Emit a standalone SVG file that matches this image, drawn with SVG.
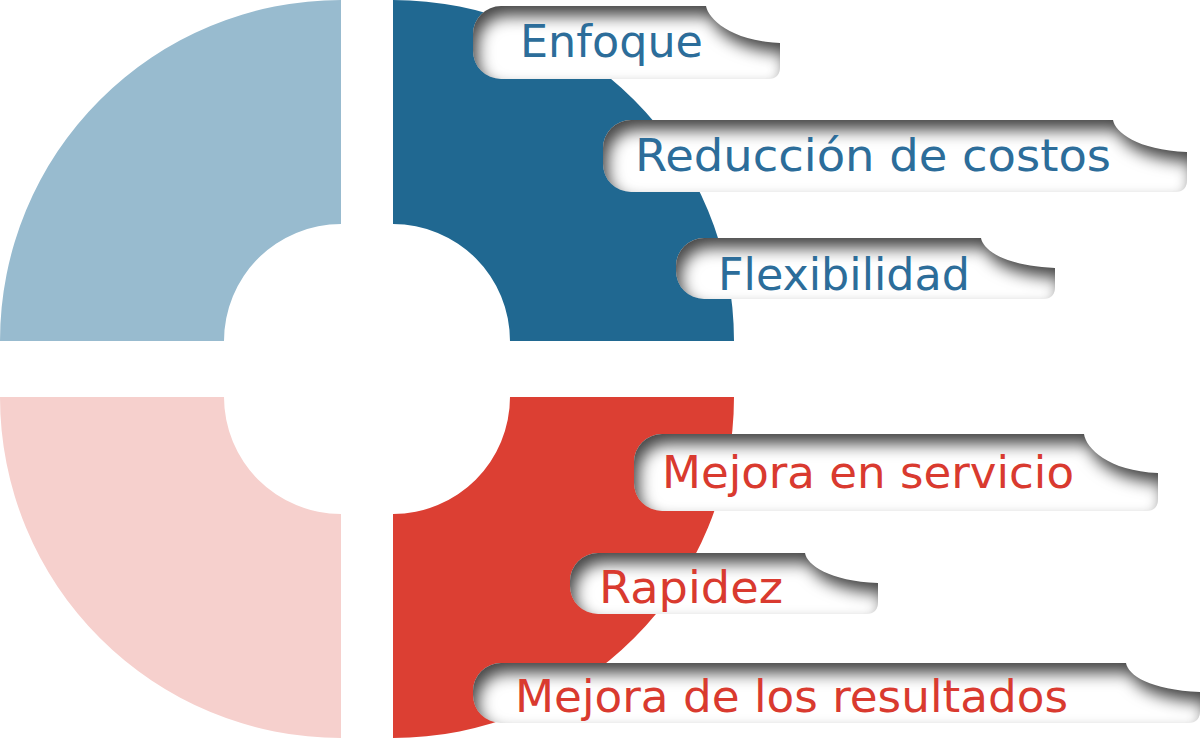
<svg xmlns="http://www.w3.org/2000/svg" width="1200" height="738" viewBox="0 0 1200 738">
  <style>
    .lbl { font-family: "DejaVu Sans", "Liberation Sans", sans-serif; font-size: 45px; }
    .blue { fill: #2c6d9a; }
    .red { fill: #d93a2f; }
    .tab { fill: #ffffff; filter: url(#inset); }
  </style>
  <defs>
    <filter id="inset" x="-15%" y="-80%" width="130%" height="260%" color-interpolation-filters="sRGB">
      <feComponentTransfer in="SourceAlpha" result="inv">
        <feFuncA type="table" tableValues="1 0"/>
      </feComponentTransfer>
      <feOffset in="inv" dx="5" dy="10" result="off"/>
      <feGaussianBlur in="off" stdDeviation="8" result="blur"/>
      <feFlood flood-color="#444444" result="col"/>
      <feComposite in="col" in2="blur" operator="in" result="sh"/>
      <feComposite in="sh" in2="SourceAlpha" operator="in" result="inner"/>
      <feMerge>
        <feMergeNode in="SourceGraphic"/>
        <feMergeNode in="inner"/>
      </feMerge>
    </filter>
  </defs>
  <rect width="1200" height="738" fill="#ffffff"/>

  <g id="quarter-top-left">
    <path d="M 0 341 A 341 341 0 0 1 341 0 V 224 A 117 117 0 0 0 224 341 Z" fill="#98bbcf"/>
  </g>
  <g id="quarter-top-right">
    <path d="M 393 0 A 341 341 0 0 1 734 341 H 510 A 117 117 0 0 0 393 224 Z" fill="#206891"/>
  </g>
  <g id="quarter-bottom-right">
    <path d="M 734 397 A 341 341 0 0 1 393 738 V 514 A 117 117 0 0 0 510 397 Z" fill="#dc3f33"/>
  </g>
  <g id="quarter-bottom-left">
    <path d="M 341 738 A 341 341 0 0 1 0 397 H 224 A 117 117 0 0 0 341 514 Z" fill="#f6d0cd"/>
  </g>

  <g id="connectors"/>

  <g id="tab-enfoque">
    <path class="tab" d="M 501 6 H 706 C 708 18 730 41 780 43 V 67 Q 780 79 768 79 H 501 A 28 28 0 0 1 473 51 V 34 A 28 28 0 0 1 501 6 Z"/>
    <text class="lbl blue" x="520" y="57" textLength="183" lengthAdjust="spacingAndGlyphs">Enfoque</text>
  </g>
  <g id="tab-reduccion">
    <path class="tab" d="M 631 120 H 1113 C 1115 132 1137 150 1187 152 V 180 Q 1187 192 1175 192 H 631 A 28 28 0 0 1 603 164 V 148 A 28 28 0 0 1 631 120 Z"/>
    <text class="lbl blue" x="635" y="171" textLength="476" lengthAdjust="spacingAndGlyphs">Reducción de costos</text>
  </g>
  <g id="tab-flexibilidad">
    <path class="tab" d="M 704 238 H 981 C 983 250 1005 266 1055 268 V 287 Q 1055 299 1043 299 H 704 A 28 28 0 0 1 676 271 V 266 A 28 28 0 0 1 704 238 Z"/>
    <text class="lbl blue" x="718" y="290" textLength="252" lengthAdjust="spacingAndGlyphs">Flexibilidad</text>
  </g>
  <g id="tab-mejora-servicio">
    <path class="tab" d="M 662 434 H 1084 C 1086 448 1108 471 1158 473 V 499 Q 1158 511 1146 511 H 662 A 28 28 0 0 1 634 483 V 462 A 28 28 0 0 1 662 434 Z"/>
    <text class="lbl red" x="662" y="488" textLength="412" lengthAdjust="spacingAndGlyphs">Mejora en servicio</text>
  </g>
  <g id="tab-rapidez">
    <path class="tab" d="M 598 553 H 805 C 807 565 829 581 878 583 V 602 Q 878 614 866 614 H 598 A 28 28 0 0 1 570 586 V 581 A 28 28 0 0 1 598 553 Z"/>
    <text class="lbl red" x="599" y="603" textLength="184" lengthAdjust="spacingAndGlyphs">Rapidez</text>
  </g>
  <g id="tab-mejora-resultados">
    <path class="tab" d="M 501 663 H 1126 C 1128 675 1150 690 1200 692 V 711 Q 1200 723 1188 723 H 501 A 28 28 0 0 1 473 695 V 691 A 28 28 0 0 1 501 663 Z"/>
    <text class="lbl red" x="515" y="712" textLength="553" lengthAdjust="spacingAndGlyphs">Mejora de los resultados</text>
  </g>
</svg>
